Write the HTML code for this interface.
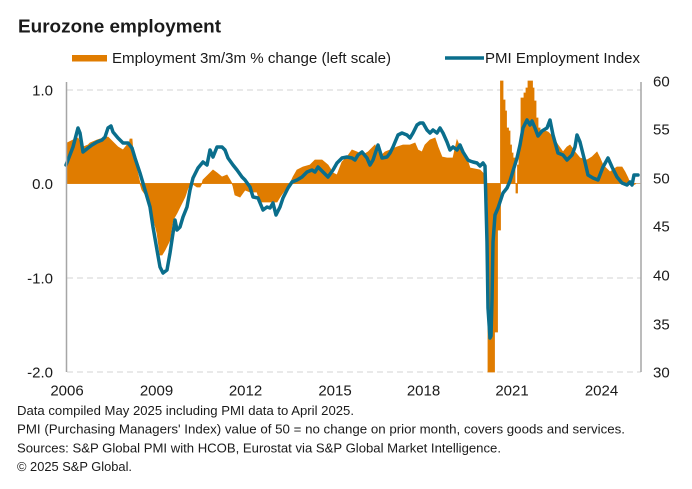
<!DOCTYPE html>
<html>
<head>
<meta charset="utf-8">
<style>
  html,body{margin:0;padding:0;background:#fff;}
  svg{display:block;}
  text{font-family:"Liberation Sans",Arial,sans-serif;fill:#1a1a1a;}
</style>
</head>
<body>
<svg width="692" height="489" viewBox="0 0 692 489" xmlns="http://www.w3.org/2000/svg">
  <!-- Title -->
  <text x="18" y="32.5" font-size="18" font-weight="bold" textLength="203" lengthAdjust="spacingAndGlyphs">Eurozone employment</text>

  <!-- Legend -->
  <rect x="72" y="55" width="35" height="6.5" fill="#e07c00"/>
  <text x="112" y="63" font-size="15" textLength="279" lengthAdjust="spacingAndGlyphs">Employment 3m/3m  % change (left scale)</text>
  <line x1="445" y1="58" x2="484" y2="58" stroke="#0a6e8c" stroke-width="3.5"/>
  <text x="485" y="63" font-size="15" textLength="155" lengthAdjust="spacingAndGlyphs">PMI Employment Index</text>

  <!-- Gridlines -->
  <g stroke="#d3d3d3" stroke-width="1" stroke-dasharray="6,4">
    <line x1="67" y1="90" x2="641" y2="90"/>
    <line x1="67" y1="278" x2="641" y2="278"/>
    <line x1="67" y1="372" x2="641" y2="372"/>
  </g>
  <line x1="67" y1="183.5" x2="641" y2="183.5" stroke="#d9b48a" stroke-width="1"/>

  <!-- Bars (employment) -->
  <polygon fill="#e07c00" stroke="#e07c00" stroke-width="0.8" stroke-linejoin="miter" points="
    67,183.5 67,143 73,140 78,138 80,142 83,147 88,145 90,143 97,140 103,138 108,137 113,142 118,147 123,150 127,145 129,145 130,139 132,139 133,152 137,170 140,183.5
    142,190 147,197 152,213 157,233 160,255 162,255 165,250 170,240 172,225 173,220 177,213 180,207 185,197 188,188 192,183.5
    192,183.5 197,187 200,187 202,183.5 203,180 208,175 213,170 217,173 222,177 227,175 230,180 232,183.5
    233,186 235,195 240,197 245,190 250,192 257,192 260,202 277,202 280,197 287,187 290,183.5
    293,177 297,170 303,167 310,165 315,160 322,160 328,165 333,173 337,175 342,162 347,157 352,150 357,152 363,155 368,152 375,145 380,157 385,152 390,150 397,147 403,145 410,145 415,143 418,150 422,152 425,145 430,140 435,138 438,147 442,157 447,158 453,158 457,140 460,147 465,153 470,168 480,170 482,172 485,175 485.5,183.5
    485.5,200 488,200 488,372 494.5,372 494.5,332 497.5,332 497.5,230 500.5,230 500.5,183.5
    500.5,81 503,81 503,100 505,100 505,111 506.5,111 506.5,128 508.5,128 508.5,131 510,131 510,145 511.5,145 511.5,153 513,153 513,158 515,158 515,183.5 516,183.5 516,193 517.5,193 517.5,165 519,165 519,145 521,145 521,98 524,98 524,93 526,93 526,88 528,88 528,81 532.5,81 532.5,88 534,88 534,101 536,101 536,118 538,118 538,128 540,128 540,131 542,130 548,132 553,137 558,145 563,152 567,147 570,145 575,152 580,158 587,160 592,157 597,152 600,158 603,165 610,172 617,167 622,167 625,172 628,178 630,183.5 633,185 636,183.5
  "/>

  <!-- PMI line -->
  <polyline fill="none" stroke="#0a6e8c" stroke-width="3.5" stroke-linejoin="round" stroke-linecap="round" points="
    66,165 68,160 73,147 78,128 80,133 83,152 88,148 92,145 97,142 102,140 105,137 108,128 111,126 113,132 118,138 123,143 128,143 132,148 135,158 140,173 145,190 150,207 153,227 157,250 160,267 163,273 167,270 170,253 173,233 175,220 177,230 180,227 183,217 187,207 190,190 193,178 198,168 203,162 207,165 210,150 213,157 217,147 222,147 225,150 228,158 233,165 237,170 242,177 245,180 250,187 253,197 258,198 263,210 267,207 270,208 273,203 276,215 280,207 283,198 288,188 292,182 297,180 302,177 307,172 312,170 315,172 318,167 323,172 328,177 333,170 337,163 342,158 347,157 352,158 355,160 358,155 362,152 367,158 370,165 373,160 377,148 378,145 382,158 387,157 390,153 393,147 398,135 402,133 407,135 410,138 413,133 417,125 420,123 423,123 427,130 430,133 433,130 437,133 440,128 443,133 447,142 450,150 453,147 457,150 460,145 463,152 468,160 470,161 473,162 477,163 480,166 483,163 485,166 487,242 488,308 490,338 491,336 492,300 493,242 495,215 498,208 503,193 507,188 510,181 513,171 517,158 520,145 523,128 527,120 530,125 532,121 535,128 538,136 542,131 547,128 550,120 553,135 558,153 563,155 567,160 572,155 575,147 577,135 580,142 585,162 588,175 593,178 598,180 603,167 608,158 612,167 617,177 622,183 627,185 630,182 632,185 634,175 638,175
  "/>

  <!-- Axes -->
  <line x1="66.5" y1="82" x2="66.5" y2="372" stroke="#a6a6a6" stroke-width="1.5"/>
  <line x1="641" y1="82" x2="641" y2="372" stroke="#a6a6a6" stroke-width="1.5"/>

  <!-- Left axis labels -->
  <g font-size="15" text-anchor="end">
    <text x="53" y="95.5">1.0</text>
    <text x="53" y="189">0.0</text>
    <text x="53" y="283.5">-1.0</text>
    <text x="53" y="377.5">-2.0</text>
  </g>

  <!-- Right axis labels -->
  <g font-size="15" text-anchor="start">
    <text x="653" y="86.5">60</text>
    <text x="653" y="134.5">55</text>
    <text x="653" y="183.5">50</text>
    <text x="653" y="231.5">45</text>
    <text x="653" y="280.5">40</text>
    <text x="653" y="329.5">35</text>
    <text x="653" y="377.5">30</text>
  </g>

  <!-- X axis labels -->
  <g font-size="15" text-anchor="middle">
    <text x="67" y="395.5">2006</text>
    <text x="156.5" y="395.5">2009</text>
    <text x="245.5" y="395.5">2012</text>
    <text x="335" y="395.5">2015</text>
    <text x="423.5" y="395.5">2018</text>
    <text x="512" y="395.5">2021</text>
    <text x="601.5" y="395.5">2024</text>
  </g>

  <!-- Footer -->
  <g font-size="13">
    <text x="17" y="415" textLength="337" lengthAdjust="spacingAndGlyphs">Data compiled May 2025 including PMI data to April 2025.</text>
    <text x="17" y="433.5" textLength="608" lengthAdjust="spacingAndGlyphs">PMI (Purchasing Managers' Index) value of 50 = no change on prior month, covers goods and services.</text>
    <text x="17" y="452.5" textLength="484" lengthAdjust="spacingAndGlyphs">Sources: S&amp;P Global PMI with HCOB, Eurostat via S&amp;P Global Market Intelligence.</text>
    <text x="17" y="471" textLength="115" lengthAdjust="spacingAndGlyphs">© 2025 S&amp;P Global.</text>
  </g>
</svg>
</body>
</html>
